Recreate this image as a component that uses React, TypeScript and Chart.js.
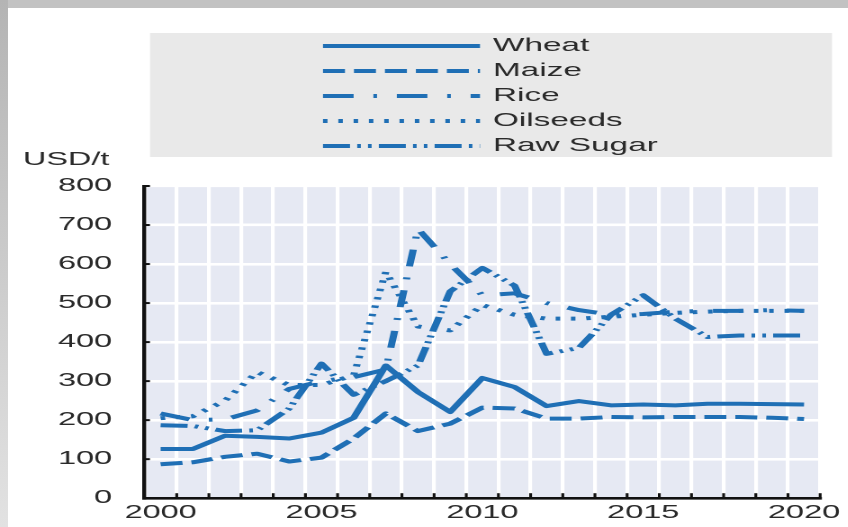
import { useEffect, useRef } from "react";
import { Chart, registerables } from "chart.js";

Chart.register(...registerables);

// ---- data ----
const years = [2000, 2001, 2002, 2003, 2004, 2005, 2006, 2007, 2008, 2009, 2010, 2011, 2012, 2013, 2014, 2015, 2016, 2017, 2018, 2019, 2020];
const wheat = [126, 126, 160, 157, 153, 168, 206, 340, 272, 221, 308, 285, 236, 249, 238, 240, 238, 242, 242, 241, 240];
const maize = [87, 92, 106, 114, 94, 104, 153, 217, 172, 191, 232, 230, 204, 204, 208, 207, 208, 208, 208, 206, 203];
const rice = [217, 200, 202, 225, 280, 300, 310, 330, 690, 600, 520, 525, 500, 482, 470, 472, 478, 480, 480, 482, 480];
const oilseeds = [205, 210, 250, 323, 290, 290, 315, 580, 440, 430, 495, 470, 460, 460, 465, 470, 475, 478, 480, 480, 480];
const rawSugar = [187, 185, 172, 174, 230, 345, 265, 300, 340, 530, 590, 545, 370, 385, 470, 520, 460, 413, 417, 417, 417];
const seriesNames = ["Wheat", "Maize", "Rice", "Oilseeds", "Raw Sugar"];
const yTicks = [0, 100, 200, 300, 400, 500, 600, 700, 800];
const unitLabel = "USD/t";

const SX = 1.8; // horizontal stretch of the whole picture
const BLUE = "#1f6fb5";
const TEXT = "#2a2a2a";
const FONT = '"Liberation Sans", Arial, sans-serif';

export default function App() {
  const ref = useRef<HTMLCanvasElement | null>(null);

  useEffect(() => {
    const canvas = ref.current;
    if (!canvas) return;

    const plotBg = {
      id: "plotBg",
      beforeDraw(chart: any) {
        const { ctx, chartArea: a } = chart;
        ctx.save();
        ctx.fillStyle = "#e6e9f3";
        ctx.fillRect(a.left, a.top, a.right - a.left, a.bottom - a.top);
        ctx.restore();
      },
    };

    const innerTicks = {
      id: "innerTicks",
      afterDraw(chart: any) {
        const { ctx, chartArea: a, scales } = chart;
        const xs = scales.x;
        const ys = scales.y;
        ctx.save();
        ctx.strokeStyle = "#111";
        ctx.lineWidth = 2;
        for (const v of yTicks) {
          const py = ys.getPixelForValue(v);
          ctx.beginPath();
          ctx.moveTo(a.left, py);
          ctx.lineTo(a.left + 3, py);
          ctx.stroke();
        }
        ctx.lineWidth = 1.6;
        const n = years.length;
        const half = (xs.getPixelForValue(1) - xs.getPixelForValue(0)) / 2;
        for (let i = 0; i < n; i++) {
          const px = xs.getPixelForValue(i) + half;
          ctx.beginPath();
          ctx.moveTo(px, a.bottom);
          ctx.lineTo(px, a.bottom - 5);
          ctx.stroke();
        }
        ctx.restore();
      },
    };

    const customLegend = {
      id: "customLegend",
      afterDraw(chart: any) {
        const { ctx } = chart;
        const boxL = 150 / SX;
        const boxR = 832 / SX;
        const boxT = 33;
        const boxB = 157;
        const lineL = 323 / SX;
        const lineR = 480 / SX;
        const textX = 493 / SX;
        const rowH = 25;
        const row0 = 46;
        ctx.save();
        ctx.fillStyle = "#e9e9e9";
        ctx.fillRect(boxL, boxT, boxR - boxL, boxB - boxT);
        chart.data.datasets.forEach((ds: any, i: number) => {
          const y = row0 + i * rowH;
          ctx.save();
          ctx.strokeStyle = ds.borderColor;
          ctx.lineWidth = ds.borderWidth;
          ctx.lineCap = "butt";
          ctx.setLineDash(ds.borderDash || []);
          ctx.beginPath();
          ctx.moveTo(lineL, y);
          ctx.lineTo(lineR, y);
          ctx.stroke();
          ctx.restore();
          ctx.fillStyle = TEXT;
          ctx.font = `18.5px ${FONT}`;
          ctx.textBaseline = "middle";
          ctx.textAlign = "left";
          ctx.fillText(ds.label, textX, y);
        });
        // unit label
        ctx.fillStyle = TEXT;
        ctx.font = `18px ${FONT}`;
        ctx.textBaseline = "middle";
        ctx.textAlign = "left";
        ctx.fillText(unitLabel, 23 / SX, 160);
        ctx.restore();
      },
    };

    const base = {
      borderColor: BLUE,
      borderWidth: 4,
      pointRadius: 0,
      tension: 0,
      fill: false,
      borderCapStyle: "butt",
      borderJoinStyle: "round",
    };

    const chart = new Chart(canvas, {
      type: "line",
      data: {
        labels: years.map(String),
        datasets: [
          { ...base, label: seriesNames[0], data: wheat, borderDash: [] },
          { ...base, label: seriesNames[1], data: maize, borderDash: [12.2, 5] },
          { ...base, label: seriesNames[2], data: rice, borderDash: [17, 11, 2, 11] },
          { ...base, label: seriesNames[3], data: oilseeds, borderDash: [2.5, 6] },
          { ...base, label: seriesNames[4], data: rawSugar, borderDash: [15, 4, 2, 4, 2, 4] },
        ],
      } as any,
      options: {
        animation: false,
        responsive: true,
        maintainAspectRatio: false,
        devicePixelRatio: 2,
        layout: { padding: { top: 186, right: 12, left: 0, bottom: 0 } },
        plugins: {
          legend: { display: false },
          tooltip: { enabled: false },
          title: { display: false },
        },
        scales: {
          x: {
            type: "category",
            offset: true,
            grid: { color: "#ffffff", lineWidth: 2.1, offset: true, drawTicks: false },
            border: { display: true, color: "#111", width: 2.6 },
            ticks: {
              autoSkip: false,
              maxRotation: 0,
              minRotation: 0,
              padding: 4,
              color: TEXT,
              font: { family: FONT, size: 18 },
              callback: (_v: any, i: number) => (years[i] % 5 === 0 ? String(years[i]) : ""),
            },
            afterFit: (s: any) => {
              s.height = 27.5;
            },
          },
          y: {
            min: 0,
            max: 800,
            grid: { color: "#ffffff", lineWidth: 2.6, drawTicks: false },
            border: { display: true, color: "#111", width: 2.2 },
            ticks: {
              stepSize: 100,
              padding: 18,
              color: TEXT,
              font: { family: FONT, size: 18 },
            },
            afterFit: (s: any) => {
              s.width = 80.3;
            },
          },
        },
      } as any,
      plugins: [plotBg, innerTicks, customLegend],
    });

    return () => chart.destroy();
  }, []);

  return (
    <div style={{ position: "fixed", left: 0, top: 0, width: 848, height: 527, background: "#ffffff", overflow: "hidden" }}>
      <div style={{ position: "absolute", left: 0, top: 0, width: 848, height: 8, background: "#c2c2c2" }} />
      <div style={{ position: "absolute", left: 0, top: 0, width: 8, height: 527, background: "linear-gradient(#b4b4b4, #e2e2e2)" }} />
      <div
        style={{
          position: "absolute",
          left: 0,
          top: 0,
          width: 471,
          height: 527,
          transform: `scaleX(${SX})`,
          transformOrigin: "0 0",
        }}
      >
        <canvas ref={ref} />
      </div>
    </div>
  );
}
